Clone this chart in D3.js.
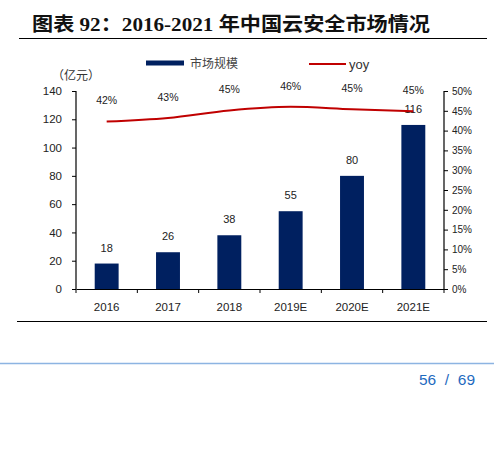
<!DOCTYPE html>
<html>
<head>
<meta charset="utf-8">
<script src="https://cdn.jsdelivr.net/npm/d3@7"></script>
<style>
  body { margin: 0; background: #fff; }
  svg text { font-family: "Liberation Sans", Arial, sans-serif; }
</style>
</head>
<body>
<div id="chart"></div>
<script>
// Data
const years = ["2016", "2017", "2018", "2019E", "2020E", "2021E"];
const marketSize = [18, 26, 38, 55, 80, 116];
const yoy = [0.423, 0.432, 0.451, 0.46, 0.454, 0.449];
const yoyLabels = ["42%", "43%", "45%", "46%", "45%", "45%"];
const leftTicks = [0, 20, 40, 60, 80, 100, 120, 140];
const rightTicks = [0, 0.05, 0.1, 0.15, 0.2, 0.25, 0.3, 0.35, 0.4, 0.45, 0.5];

const width = 494, height = 460;
const plot = { left: 76, right: 444, top: 91, bottom: 289 };

const svg = d3.select("#chart")
    .append("svg")
    .attr("width", width)
    .attr("height", height);

// Title
svg.append("text")
    .attr("x", 32)
    .attr("y", 31)
    .attr("font-size", 19.5)
    .attr("font-weight", "bold")
    .attr("textLength", 398)
    .attr("lengthAdjust", "spacingAndGlyphs")
    .style("font-family", "'Liberation Serif', 'Noto Sans CJK SC', serif")
    .attr("fill", "#111")
    .text("图表 92：2016-2021 年中国云安全市场情况");

svg.append("line")
    .attr("x1", 19).attr("x2", 487)
    .attr("y1", 38.5).attr("y2", 38.5)
    .attr("stroke", "#000").attr("stroke-width", 1);

// Scales
const x = d3.scaleBand()
    .domain(years)
    .range([plot.left, plot.right]);

const y = d3.scaleLinear()
    .domain([0, 140])
    .range([plot.bottom, plot.top]);

const y2 = d3.scaleLinear()
    .domain([0, 0.5])
    .range([plot.bottom, plot.top]);

const navy = "#002060";
const red = "#c00000";

// Bars
const barW = x.bandwidth() * 0.39;
svg.selectAll("rect.bar")
    .data(marketSize)
    .join("rect")
    .attr("class", "bar")
    .attr("x", (d, i) => x(years[i]) + x.bandwidth() / 2 - barW / 2)
    .attr("y", d => y(d))
    .attr("width", barW)
    .attr("height", d => plot.bottom - y(d))
    .attr("fill", navy);

// Bar labels
svg.selectAll("text.barlabel")
    .data(marketSize)
    .join("text")
    .attr("class", "barlabel")
    .attr("x", (d, i) => x(years[i]) + x.bandwidth() / 2)
    .attr("y", d => y(d) - 12)
    .attr("text-anchor", "middle")
    .attr("font-size", 11)
    .attr("fill", "#222")
    .text(d => d);

// Axes
const leftAxis = svg.append("g")
    .attr("transform", `translate(${plot.left},0)`)
    .call(d3.axisLeft(y).tickValues(leftTicks).tickSize(4).tickPadding(10));

const rightAxis = svg.append("g")
    .attr("transform", `translate(${plot.right},0)`)
    .call(d3.axisRight(y2).tickValues(rightTicks).tickSize(4).tickPadding(4)
        .tickFormat(d3.format(".0%")));

const bottomAxis = svg.append("g")
    .attr("transform", `translate(0,${plot.bottom})`)
    .call(d3.axisBottom(x).tickSize(0).tickPadding(14));

// boundary ticks on the category axis
svg.selectAll("line.xtick")
    .data(d3.range(years.length + 1))
    .join("line")
    .attr("class", "xtick")
    .attr("x1", i => plot.left + i * x.bandwidth())
    .attr("x2", i => plot.left + i * x.bandwidth())
    .attr("y1", plot.bottom)
    .attr("y2", plot.bottom + 4)
    .attr("stroke", "#000");

[leftAxis, rightAxis, bottomAxis].forEach(g => {
    g.select(".domain").attr("stroke", "#000").attr("stroke-width", 1.2);
    g.selectAll(".tick line").attr("stroke", "#000");
    g.selectAll("text").attr("fill", "#222")
        .style("font-family", "'Liberation Sans', Arial, sans-serif");
});
leftAxis.selectAll("text").attr("font-size", 11.5);
rightAxis.selectAll("text").attr("font-size", 10);
bottomAxis.selectAll("text").attr("font-size", 11.5);
leftAxis.select(".domain").attr("d", `M0,${plot.top}V${plot.bottom}`);
rightAxis.select(".domain").attr("d", `M0,${plot.top}V${plot.bottom}`);

// yoy line
const line = d3.line()
    .x((d, i) => x(years[i]) + x.bandwidth() / 2)
    .y(d => y2(d))
    .curve(d3.curveMonotoneX);

svg.append("path")
    .datum(yoy)
    .attr("d", line)
    .attr("fill", "none")
    .attr("stroke", red)
    .attr("stroke-width", 2);

svg.selectAll("text.yoylabel")
    .data(yoy)
    .join("text")
    .attr("class", "yoylabel")
    .attr("x", (d, i) => x(years[i]) + x.bandwidth() / 2)
    .attr("y", d => y2(d) - 17)
    .attr("text-anchor", "middle")
    .attr("font-size", 10.5)
    .attr("fill", "#222")
    .text((d, i) => yoyLabels[i]);

// Unit
svg.append("text")
    .attr("x", 52)
    .attr("y", 80)
    .attr("font-size", 12)
    .attr("fill", "#333")
    .style("font-family", "'Noto Sans CJK SC', sans-serif")
    .text("（亿元）");

// Legend
svg.append("rect")
    .attr("x", 146).attr("y", 60.5)
    .attr("width", 38).attr("height", 5)
    .attr("fill", navy);
svg.append("text")
    .attr("x", 190).attr("y", 67.5)
    .attr("font-size", 12)
    .attr("fill", "#444")
    .style("font-family", "'Noto Sans CJK SC', sans-serif")
    .text("市场规模");
svg.append("line")
    .attr("x1", 309).attr("x2", 346)
    .attr("y1", 64).attr("y2", 64)
    .attr("stroke", red).attr("stroke-width", 2);
svg.append("text")
    .attr("x", 349).attr("y", 68.5)
    .attr("font-size", 13)
    .attr("fill", "#333")
    .text("yoy");

// Bottom rule
svg.append("line")
    .attr("x1", 17).attr("x2", 487)
    .attr("y1", 321.5).attr("y2", 321.5)
    .attr("stroke", "#000").attr("stroke-width", 1);

// Page footer
svg.append("line")
    .attr("x1", 0).attr("x2", width)
    .attr("y1", 363.5).attr("y2", 363.5)
    .attr("stroke", "#8db4e2").attr("stroke-width", 1.5);

svg.append("text")
    .attr("x", 475).attr("y", 384.5)
    .attr("text-anchor", "end")
    .attr("font-size", 15.5)
    .attr("fill", "#1f6bbf")
    .attr("xml:space", "preserve")
    .text("56  /  69");
</script>
</body>
</html>
